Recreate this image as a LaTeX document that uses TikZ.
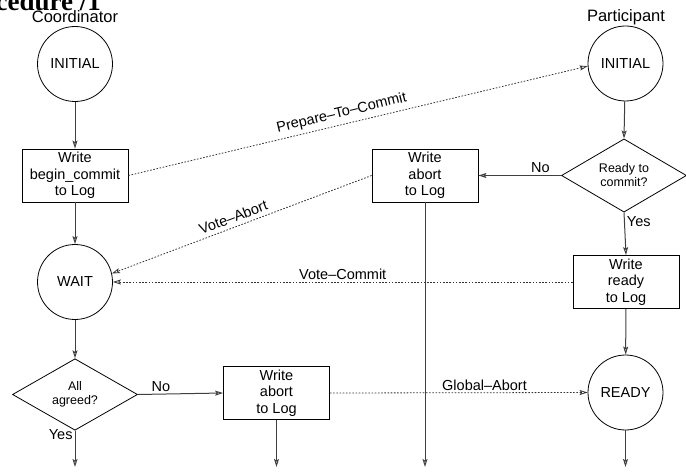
\documentclass[tikz,border=0pt]{standalone}
\usepackage{fontspec}
\setmainfont{Liberation Sans}
\newfontfamily\titlefont{Liberation Serif}
\usetikzlibrary{arrows.meta,shapes.geometric}

\begin{document}
\begin{tikzpicture}[x=1pt,y=-1pt,
  every node/.style={font=\fontsize{14.5}{16.5}\selectfont},
  state/.style={circle,draw,line width=0.8pt,minimum size=75pt,inner sep=0pt},
  logbox/.style={rectangle,draw,line width=0.8pt,minimum width=106pt,minimum height=53pt,
    align=center,inner sep=0pt},
  decision/.style={diamond,draw,line width=0.8pt,minimum width=125pt,minimum height=64pt,
    inner sep=0pt,align=center,font=\fontsize{12.5}{14}\selectfont},
  role/.style={font=\fontsize{16.5}{18}\selectfont},
  flow/.style={draw=black!75,line width=1pt,-{Stealth[open,length=8pt,width=5pt,inset=1.5pt]}},
  msg/.style={draw=black!80,line width=0.8pt,dash pattern=on 1.6pt off 1.6pt,
    -{Stealth[open,length=8pt,width=5pt,inset=1.5pt]}},
  lbl/.style={inner sep=2pt},
  slbl/.style={inner sep=4pt,sloped,above}
]
\useasboundingbox (0,0) rectangle (686,476);

% heading, cut by the page edge
\node[anchor=base east,inner sep=0pt,font=\titlefont\bfseries\fontsize{27}{27}\selectfont]
  (title) at (101,11) {Procedure /1};

% coordinator column
\node[role] (coordlbl) at (75,17) {Coordinator};
\node[state] (initC) at (75,64) {INITIAL};
\node[logbox] (beginC) at (75,175.5) {Write\\begin\_commit\\to Log};
\node[state] (wait) at (75,282) {WAIT};
\node[decision] (agreed) at (75,394.5) {All\\agreed?};
\node[logbox] (abortC) at (276.5,393) {Write\\abort\\to Log};
\coordinate (yesC) at (75,467);
\coordinate (endAbortC) at (276.5,467);

% participant column
\node[role] (partlbl) at (626,17) {Participant};
\node[state] (initP) at (625.5,63.5) {INITIAL};
\node[decision] (ready) at (624,175.5) {Ready to\\commit?};
\node[logbox] (abortP) at (425,175.5) {Write\\abort\\to Log};
\node[logbox] (readyBox) at (626,282) {Write\\ready\\to Log};
\node[state] (readyP) at (625.5,392.5) {READY};
\coordinate (endAbortP) at (425,467);
\coordinate (endReady) at (625.5,467);

% coordinator flow
\draw[flow] (initC) -- (beginC);
\draw[flow] (beginC) -- (wait);
\draw[flow] (wait) -- (agreed);
\draw[flow] (agreed.south) -- (yesC) node[lbl,pos=0.12,left] {Yes};
\draw[flow] (agreed.east) -- (abortC.west) node[lbl,pos=0.27,above] {No};
\draw[flow] (abortC) -- (endAbortC);

% participant flow
\draw[flow] (initP) -- (ready.north);
\draw[flow] (ready.west) -- (abortP.east) node[lbl,pos=0.25,above] {No};
\draw[flow] (ready.south) -- (readyBox.north) node[lbl,pos=0.22,right] {Yes};
\draw[flow] (abortP) -- (endAbortP);
\draw[flow] (readyBox) -- (readyP);
\draw[flow] (readyP) -- (endReady);

% messages
\draw[msg] (beginC.east) -- (initP.184)
  node[slbl,pos=0.47] {Prepare–To–Commit};
\draw[msg] (abortP.west) -- (wait.13)
  node[slbl,pos=0.52] {Vote–Abort};
\draw[msg] (readyBox.west) -- (wait.east)
  node[lbl,above,pos=0.5] {Vote–Commit};
\draw[msg] (abortC.east) -- (readyP.west)
  node[lbl,above,pos=0.6] {Global–Abort};
\end{tikzpicture}
\end{document}
